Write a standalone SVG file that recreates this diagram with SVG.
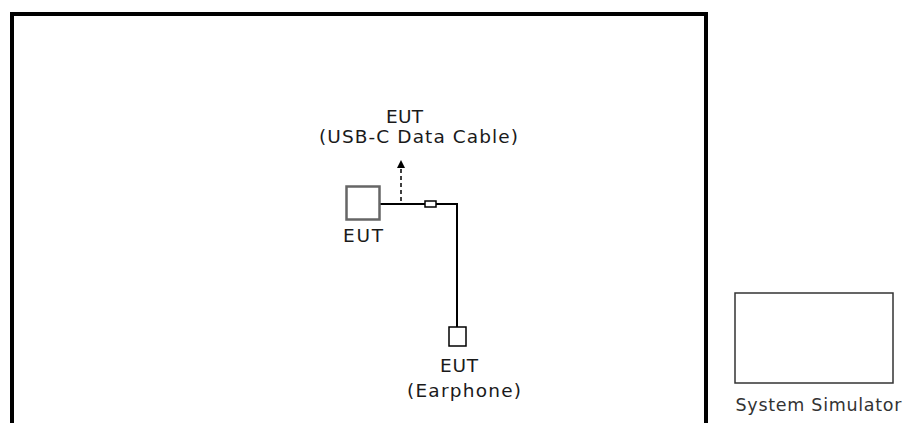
<svg xmlns="http://www.w3.org/2000/svg" width="903" height="423" viewBox="0 0 903 423">
<style>
.t{font-family:"DejaVu Sans","Open Sans",sans-serif;font-size:18.5px;fill:#1a1a1a;text-anchor:middle}
.s{font-family:"DejaVu Sans","Open Sans",sans-serif;font-size:17.5px;fill:#333;text-anchor:middle}
.ln{stroke:#000;stroke-width:2;fill:none}
</style>
<defs>
<marker id="ah" markerWidth="8" markerHeight="8" refX="4" refY="4" orient="auto" markerUnits="userSpaceOnUse">
<path d="M0,0 L8,4 L0,8 z" fill="#000"/>
</marker>
</defs>
<g id="chamber">
<rect x="12" y="14" width="694" height="412" fill="#fff" stroke="#000" stroke-width="4"/>
</g>
<g id="connectors">
<path class="ln" d="M380,204 H425 M436,204 H457 V327"/>
<line x1="401" y1="201" x2="401" y2="164" stroke="#000" stroke-width="1.5" stroke-dasharray="4,3" marker-end="url(#ah)"/>
<rect x="425" y="201" width="11" height="6" fill="#fff" stroke="#000" stroke-width="1.5"/>
</g>
<g id="eut-phone">
<rect x="346.5" y="186.5" width="33" height="33" fill="#fff" stroke="#666" stroke-width="2.5"/>
<text class="t" x="363" y="242" textLength="40" lengthAdjust="spacing">EUT</text>
</g>
<g id="eut-cable">
<text class="t" x="404.5" y="123" textLength="37" lengthAdjust="spacing">EUT</text>
<text class="t" x="418.5" y="143" textLength="199" lengthAdjust="spacing">(USB-C Data Cable)</text>
</g>
<g id="eut-earphone">
<rect x="449" y="327" width="17" height="19" fill="#fff" stroke="#000" stroke-width="1.5"/>
<text class="t" x="459" y="372" textLength="38" lengthAdjust="spacing">EUT</text>
<text class="t" x="464" y="397" textLength="114" lengthAdjust="spacing">(Earphone)</text>
</g>
<g id="simulator">
<rect x="735" y="293" width="158" height="90" fill="#fff" stroke="#333" stroke-width="1.5"/>
<text class="s" x="818.5" y="411" textLength="166" lengthAdjust="spacing">System Simulator</text>
</g>
</svg>
